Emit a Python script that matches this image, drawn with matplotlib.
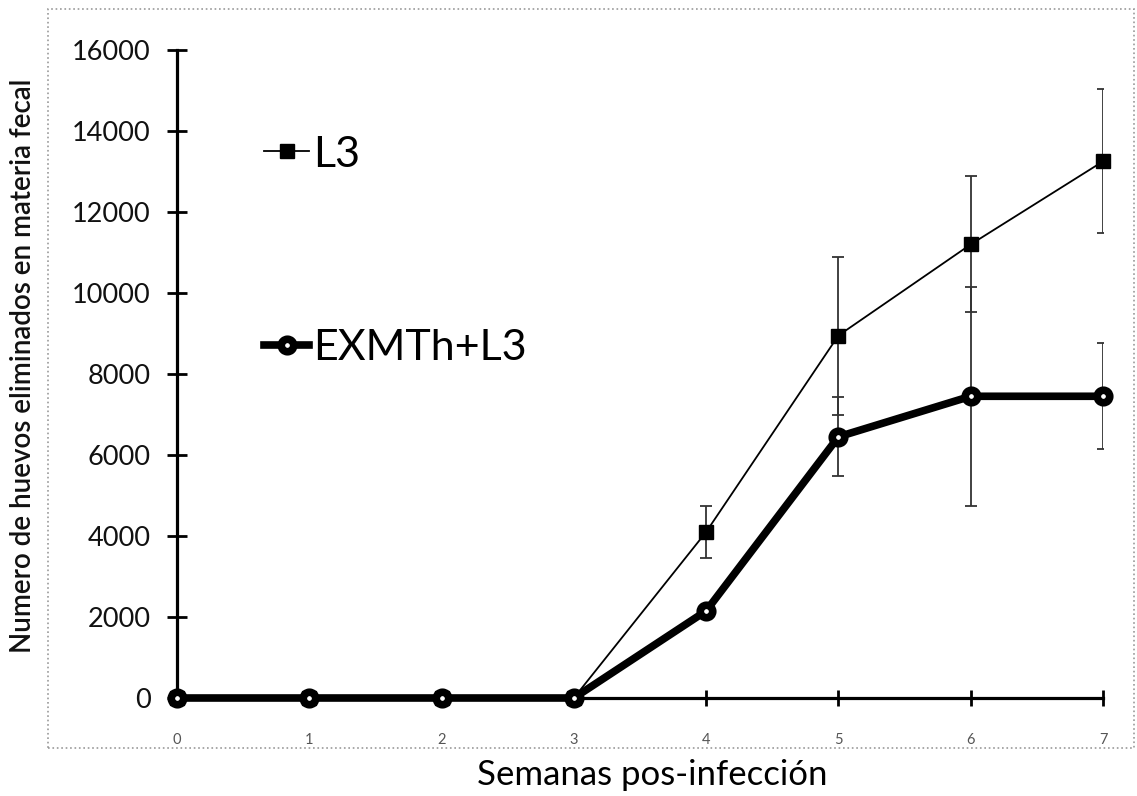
import matplotlib
matplotlib.use('Agg')
import matplotlib.pyplot as plt
from matplotlib.patches import Rectangle

weeks = [0, 1, 2, 3, 4, 5, 6, 7]
l3_mean = [0, 0, 0, 0, 4100, 8950, 11200, 13250]
l3_err = [0, 0, 0, 0, 640, 1950, 1680, 1780]
ex_mean = [0, 0, 0, 0, 2150, 6450, 7450, 7450]
ex_err = [0, 0, 0, 0, 0, 980, 2700, 1310]
y_ticks = [0, 2000, 4000, 6000, 8000, 10000, 12000, 14000, 16000]
labels = ["L3", "EXMTh+L3"]
xlabel = "Semanas pos-infección"
ylabel = "Numero de huevos eliminados en materia fecal"

plt.rcParams['font.family'] = ['Lato', 'DejaVu Sans']

fig = plt.figure(figsize=(11.37, 7.96), dpi=100)
fig.patches.append(Rectangle((48/1137, 1-748/796), (1134-48)/1137, (748-9)/796,
                             transform=fig.transFigure, fill=False,
                             edgecolor='#999999', linestyle=':', linewidth=1.2))
ax = fig.add_axes([177/1137, 1-698/796, (1103-177)/1137, (698-50)/796])

def sel(xs, ys, es):
    idx = [i for i, e in enumerate(es) if e > 0]
    return [xs[i] for i in idx], [ys[i] for i in idx], [es[i] for i in idx]

x1, y1, e1 = sel(weeks, l3_mean, l3_err)
ax.errorbar(x1, y1, yerr=e1, fmt='none', ecolor='#333333', elinewidth=1.3,
            capsize=4.3, capthick=1.3, zorder=2)
x2, y2, e2 = sel(weeks, ex_mean, ex_err)
ax.errorbar(x2, y2, yerr=e2, fmt='none', ecolor='#333333', elinewidth=1.3,
            capsize=4.3, capthick=1.3, zorder=2)

h1, = ax.plot(weeks, l3_mean, '-s', color='black', lw=1.3, ms=10.5,
              zorder=3, clip_on=False, label=labels[0])
h2, = ax.plot(weeks, ex_mean, '-o', color='black', lw=5.5, ms=9, mew=5.5,
              mfc='white', mec='black', zorder=4, clip_on=False, label=labels[1])

ax.set_xlim(0, 7)
ax.set_ylim(0, 16000)
ax.set_xticks(weeks)
ax.set_yticks(y_ticks)
for s in ['top', 'right']:
    ax.spines[s].set_visible(False)
for s in ['left', 'bottom']:
    ax.spines[s].set_linewidth(2.3)
ax.tick_params(axis='y', direction='inout', length=14, width=2, labelsize=19.5,
               pad=12, labelcolor='#111111')
ax.tick_params(axis='x', direction='inout', length=12, width=2, labelsize=10.5,
               pad=19, labelcolor='#555555')

ax.set_xlabel(xlabel, fontsize=25)
ax.xaxis.set_label_coords((652-177)/926, (698-775)/648)
ax.xaxis.label.set_va('center')
fig.text(23/1137, 1-365.5/796, ylabel, rotation=90, ha='center', va='center',
         fontsize=20, fontweight='semibold', color='#111111')

ax.legend(handles=[h1, h2], loc='upper left', bbox_to_anchor=(0.094, 0.868),
          frameon=False, fontsize=31, handlelength=1.05, handletextpad=0.1,
          labelspacing=3.61, borderpad=0, borderaxespad=0)

fig.savefig('out.png', dpi=100)
